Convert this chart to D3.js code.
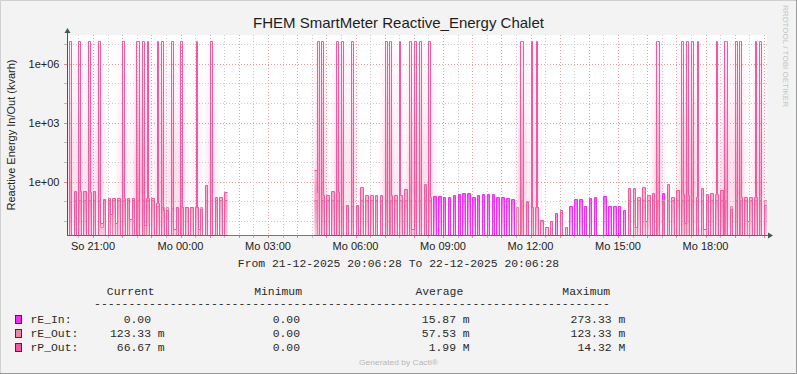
<!DOCTYPE html>
<html>
<head>
<meta charset="utf-8">
<script src="https://cdn.jsdelivr.net/npm/d3@7"></script>
<style>
html, body { margin: 0; padding: 0; background: #f3f3f3; }
svg { display: block; }
</style>
</head>
<body>
<script>
"use strict";
(function() {
const svgSize = { width: 797, height: 374 };
const plot = { left: 67, right: 767, top: 35, bottom: 235 };

const title = "FHEM SmartMeter Reactive_Energy Chalet";
const yTitle = "Reactive Energy In/Out (kvarh)";
const dayNames = ["So", "Mo", "Di", "Mi", "Do", "Fr", "Sa"];
const rangeStart = new Date(2025, 11, 21, 20, 6, 28);
const rangeEnd = new Date(2025, 11, 22, 20, 6, 28);
const rangeText = "From 21-12-2025 20:06:28 To 22-12-2025 20:06:28";

// 5 minute slots, first slot starts 20:05, one row per hour
const firstSlot = new Date(2025, 11, 21, 20, 5, 0);
const slotMinutes = 5;
const N = null;

const rEIn = [
  0,0,0,0,0,0,0,0,0,0,0,0,
  0,0,0,0,0,0,0,0,0,0,0,0,
  0,0,0,0,0,0,0,0,0,0,0,0,
  0,0,0,0,0,0,0,0,0,0,0,0,
  0,0,0,0,0,0,0,0,0,0,0,0,
  0,0,0,0,0,0,N,N,N,N,N,N,
  N,N,N,N,N,N,N,N,N,N,N,N,
  N,N,N,N,N,N,N,N,N,N,N,N,
  N,N,N,N,N,N,0,0,0,0,0,0,
  0,0,0,0,0,0,0,0,0,0,0,0,
  0,0,0,0,0,0,0,0,0,0,0,0,
  0,0,0,0,0,0,0,0,0,0,0,0,
  0,0,0,0,0,0,0,0.19,0,0.19,0,0.16,
  0,0.16,0,0.2,0,0.25,0,0.26,0,0.27,0,0.16,
  0,0.22,0,0.25,0,0.25,0,0.25,0,0.16,0,0.16,
  0,0.15,0,0.14,0,0,0,0,0,0,0,0,
  0,0,0,0,0,0,0,0,0,0.025,0,0,
  0,0,0,0.06,0,0.14,0,0.14,0,0.056,0,0.15,
  0,0.16,0,0,0,0.19,0,0.056,0,0.056,0,0.056,
  0,0.035,0,0,0,0,0,0,0,0,0,0,
  0,0,0,0,0,0.27,0,0,0,0,0,0,
  0,0,0,0,0,0,0,0,0,0,0,0,
  0,0,0,0,0,0,0,0,0,0,0,0,
  0,0,0,0,0,0,0,0,0,0,0,0,0
];

const rEOut = [
  0,0.096,0,0.12,0,0.12,0,0.12,0,0.12,0,0.12,
  0,0.12,0.005,0.12,0,0.12,0,0.12,0,0.12,0,0.12,
  0,0.12,0,0.12,0,0.12,0,0.12,0,0.12,0,0.12,
  0,0.06,0,0.05,0,0.05,0,0.045,0,0.05,0,0.05,
  0,0.05,0,0.05,0,0.05,0,0.05,0,0.12,0,0.12,
  0,0.12,0,0.12,0,0.12,N,N,N,N,N,N,
  N,N,N,N,N,N,N,N,N,N,N,N,
  N,N,N,N,N,N,N,N,N,N,N,N,
  N,N,N,N,N,N,0.12,0,0,0.12,0,0.12,
  0,0.12,0,0.12,0,0.06,0,0.06,0,0.06,0,0.06,
  0,0.12,0,0.12,0,0.12,0,0.12,0,0.12,0,0.12,
  0,0.12,0,0.12,0,0.12,0,0.12,0,0.12,0,0.12,
  0,0.12,0,0.12,0,0.12,0,0,0,0,0,0,
  0,0,0,0,0,0,0,0,0,0,0,0,
  0,0,0,0,0,0,0,0,0,0,0,0,
  0,0,0,0,0,0.05,0,0.12,0,0.11,0,0.05,
  0,0.05,0,0.01,0,0.005,0,0.01,0,0,0,0.03,
  0,0.005,0,0,0,0,0,0,0,0,0,0,
  0,0,0,0,0,0,0,0,0,0,0,0,
  0,0,0,0.12,0,0.12,0,0.12,0,0.12,0,0.12,
  0,0.12,0,0.12,0,0.12,0,0.12,0,0.12,0,0.12,
  0,0.12,0,0.12,0,0.12,0,0.12,0,0.12,0,0.12,
  0,0.12,0,0.12,0,0.12,0,0.12,0,0.06,0,0.12,
  0,0.12,0,0.12,0,0.12,0,0.12,0,0.12,0,0.1233,0.1233
];

const rPOut = [
  0,0.32,0,0.32,0,0.32,0,0.32,0,0.3,0,0.35,
  0,0.16,0.008,0.14,0,0.15,0.023,0.15,0.008,0.15,0,0.15,
  0,0.15,0.013,0.15,0,0.15,0,0.15,0.006,0.15,0,0.15,
  0,0.086,0,0.035,0,0.035,0,0.03,0.004,0.05,0,0.05,
  0,0.05,0,0.055,0,0.055,0.004,0.04,0,0.66,0,0.16,
  0,0.16,0,0.16,0,0.31,N,N,N,N,N,N,
  N,N,N,N,N,N,N,N,N,N,N,N,
  N,N,N,N,N,N,N,N,N,N,N,N,
  N,N,N,N,N,N,3.9,0.3,0,0.21,0,0.2,
  0,0.35,0,0.3,0,0.066,0,0.066,0,0.066,0,0.066,
  0,0.57,0,0.2,0,0.2,0,0.2,0,0.21,0,0.22,
  0,0.22,0,0.22,0,0.2,0,0.45,0,0.21,0.004,0.15,
  0,0.16,0,0.8,0,0.16,0,0,0,0,0,0,
  0,0,0,0,0,0,0,0,0,0,0,0,
  0,0,0,0,0,0,0,0,0,0,0,0,
  0,0,0,0,0,0,0,0.16,0,0.09,0,0.05,
  0,0.05,0,0.011,0,0.005,0,0.01,0,0,0,0.035,
  0,0.005,0,0,0,0,0,0,0,0,0,0,
  0,0,0,0,0,0,0,0,0,0,0,0,
  0,0,0,0.46,0,0.5,0.005,0.16,0,0.55,0.01,0.2,
  0,0.28,0,0.16,0,0.1,0,0.75,0,0.16,0,0.4,
  0,0.23,0.008,0.21,0,0.21,0,0.16,0,0.5,0.004,0.25,
  0,0.28,0,0.25,0,0.4,0,0.25,0,0.04,0,0.16,
  0,0.16,0,0.16,0.01,0.16,0,0.16,0,0.16,0,0.0667,0.0667
];

// rP_Out peaks: start (minutes after 20:05) and width (minutes)
const rpPeak = 14.32e6;
const rpSpikeStart = [5, 25, 45.5, 64.5, 115.5, 144, 155, 165.5, 186, 195, 214.5, 234.5, 266, 295,
  515.5, 525, 555.5, 564.5, 585, 655, 664, 684.5, 704, 714.5, 725, 745,
  934, 955, 965.5, 1213.5, 1265.5, 1275.5, 1285, 1296.5, 1336, 1354, 1375, 1384, 1416, 1424];
const rpSpikeWidth = [5, 3, 3, 5, 3, 5, 5, 3, 3, 3, 5, 3, 3, 5,
  5, 3, 3, 5, 5, 5, 3, 3, 5, 5, 5, 3,
  5, 3, 3, 5, 3, 3, 5, 3, 3, 5, 5, 3, 3, 5];

const seriesNames = ["rE_In:", "rE_Out:", "rP_Out:"];
const seriesColors = ["#f52af5", "#e48aa8", "#f2599f"];
const statHeaders = ["Current", "Minimum", "Average", "Maximum"];
const statValues = [
  [["0.00", ""], ["0.00", ""], ["15.87", "m"], ["273.33", "m"]],
  [["123.33", "m"], ["0.00", ""], ["57.53", "m"], ["123.33", "m"]],
  [["66.67", "m"], ["0.00", ""], ["1.99", "M"], ["14.32", "M"]]
];

window.addEventListener("load", init);

function init() {
    const svg = d3.select("body").append("svg")
        .attr("width", svgSize.width)
        .attr("height", svgSize.height);

    const defs = svg.append("defs");
    defs.append("clipPath").attr("id", "plotClip")
        .append("rect")
            .attr("x", plot.left).attr("y", plot.top)
            .attr("width", plot.right - plot.left).attr("height", plot.bottom - plot.top + 1);
    const haze = defs.append("filter").attr("id", "haze")
        .attr("x", "-5%").attr("width", "110%");
    haze.append("feGaussianBlur").attr("stdDeviation", "3 0");
    haze.append("feComponentTransfer")
        .append("feFuncA").attr("type", "linear").attr("slope", 3.2);

    function addGradient(id, color, stops) {
        const g = defs.append("linearGradient").attr("id", id)
            .attr("gradientUnits", "userSpaceOnUse")
            .attr("x1", 0).attr("x2", 0).attr("y1", plot.top).attr("y2", plot.bottom);
        stops.forEach(s => g.append("stop").attr("offset", s[0])
            .attr("stop-color", color).attr("stop-opacity", s[1]));
    }
    addGradient("gIn", seriesColors[0], [[0, 0.1], [0.76, 0.85], [1, 0.3]]);
    addGradient("gEOut", seriesColors[1], [[0, 0.05], [0.8, 0.5], [1, 0.15]]);
    addGradient("gPOut", seriesColors[2], [[0, 0.04], [0.3, 0.12], [0.7, 0.35], [0.78, 0.5], [1, 0.18]]);
    addGradient("gHaze", seriesColors[2], [[0, 0.02], [0.25, 0.1], [0.6, 0.25], [0.78, 0.3], [1, 0.15]]);

    // background and frame
    svg.append("rect").attr("width", svgSize.width).attr("height", svgSize.height).attr("fill", "#f3f3f3");
    svg.append("path").attr("d", `M0.5,${svgSize.height} V0.5 H${svgSize.width}`)
        .attr("fill", "none").attr("stroke", "#cfcfcf");
    svg.append("path").attr("d", `M0,${svgSize.height - 0.5} H${svgSize.width - 0.5} V0`)
        .attr("fill", "none").attr("stroke", "#9a9a9a");
    svg.append("rect")
        .attr("x", plot.left).attr("y", plot.top)
        .attr("width", plot.right - plot.left).attr("height", plot.bottom - plot.top)
        .attr("fill", "#ffffff");

    const xScale = d3.scaleTime().domain([rangeStart, rangeEnd]).range([plot.left, plot.right]);
    const yScale = d3.scaleLog().domain([Math.pow(10, -2.706), Math.pow(10, 7.447)])
        .range([plot.bottom, plot.top]).clamp(true);

    const px = t => Math.round(xScale(t)) + 0.5;
    const py = v => v > 0 ? Math.round(yScale(v)) + 0.5 : plot.bottom + 0.5;

    // grid
    const grid = svg.append("g");
    const decades = d3.range(-2, 8).map(e => Math.pow(10, e));
    const majorDecades = [1, 1e3, 1e6];
    grid.selectAll(".hgrid").data(decades).enter().append("line")
        .attr("x1", plot.left).attr("x2", plot.right)
        .attr("y1", d => Math.round(yScale(d)) + 0.5).attr("y2", d => Math.round(yScale(d)) + 0.5)
        .attr("stroke", d => majorDecades.includes(d) ? "#eea0a0" : "#cccccc")
        .attr("stroke-dasharray", "1,2");
    const halfHours = d3.timeMinute.every(30).range(rangeStart, rangeEnd);
    grid.selectAll(".vgrid").data(halfHours).enter().append("line")
        .attr("x1", d => px(d)).attr("x2", d => px(d))
        .attr("y1", plot.top).attr("y2", plot.bottom)
        .attr("stroke", d => d.getMinutes() === 0 ? "#eea0a0" : "#cccccc")
        .attr("stroke-dasharray", "1,2");
    grid.selectAll(".xtick").data(halfHours).enter().append("line")
        .attr("x1", d => px(d)).attr("x2", d => px(d))
        .attr("y1", plot.bottom + 1).attr("y2", plot.bottom + 3)
        .attr("stroke", d => d.getMinutes() === 0 ? "#e08a8a" : "#bbbbbb");
    grid.selectAll(".ytick").data(decades).enter().append("line")
        .attr("x1", plot.left - 3).attr("x2", plot.left)
        .attr("y1", d => Math.round(yScale(d)) + 0.5).attr("y2", d => Math.round(yScale(d)) + 0.5)
        .attr("stroke", d => majorDecades.includes(d) ? "#e08a8a" : "#bbbbbb");

    // series
    const slotMs = slotMinutes * 60000;
    function slotSegments(vals) {
        return vals.map((v, j) => ({ t0: +firstSlot + j * slotMs, t1: +firstSlot + (j + 1) * slotMs, v: v }));
    }
    function spikeIntervals(starts, widths) {
        return starts.map((s, i) => [+firstSlot + s * 60000, +firstSlot + (s + widths[i]) * 60000]);
    }
    function withSpikes(segs, spikes, peak, baseOff) {
        const cuts = new Set();
        segs.forEach(s => { cuts.add(s.t0); cuts.add(s.t1); });
        spikes.forEach(s => { cuts.add(s[0]); cuts.add(s[1]); });
        const times = Array.from(cuts).sort((a, b) => a - b);
        const out = [];
        for (let k = 0; k < times.length - 1; k++) {
            const a = times[k];
            const seg = segs[Math.floor((a - firstSlot) / slotMs)];
            let v = baseOff ? 0 : (seg ? seg.v : null);
            if (spikes.some(s => a >= s[0] && a < s[1])) v = peak;
            out.push({ t0: a, t1: times[k + 1], v: v });
        }
        return out;
    }
    function toPoints(segs) {
        const pts = [];
        segs.forEach(s => { pts.push({ t: s.t0, v: s.v }); pts.push({ t: s.t1, v: s.v }); });
        return pts;
    }

    const rpSpikes = spikeIntervals(rpSpikeStart, rpSpikeWidth);
    const series = [
        { pts: toPoints(slotSegments(rEIn)), color: seriesColors[0], fill: "url(#gIn)" },
        { pts: toPoints(slotSegments(rEOut)), color: seriesColors[1], fill: "url(#gEOut)" },
        { pts: toPoints(withSpikes(slotSegments(rPOut), rpSpikes, rpPeak, false)), color: seriesColors[2], fill: "url(#gPOut)" }
    ];
    const peakOnly = toPoints(withSpikes(slotSegments(rPOut), rpSpikes, rpPeak, true));

    const area = d3.area()
        .defined(d => d.v !== null)
        .x(d => px(d.t))
        .y0(plot.bottom)
        .y1(d => py(d.v));
    const line = d3.line()
        .defined(d => d.v !== null)
        .x(d => px(d.t))
        .y(d => py(d.v));

    const marks = svg.append("g").attr("clip-path", "url(#plotClip)");
    marks.append("g").attr("filter", "url(#haze)")
        .append("path")
            .attr("d", area(peakOnly))
            .attr("fill", "url(#gHaze)");
    series.forEach(s => {
        marks.append("path").attr("d", area(s.pts)).attr("fill", s.fill);
        marks.append("path").attr("d", line(s.pts))
            .attr("fill", "none").attr("stroke", s.color).attr("stroke-width", 1);
    });

    // axes
    const axisColor = "#3d5c55";
    svg.append("line")
        .attr("x1", plot.left + 0.5).attr("x2", plot.left + 0.5)
        .attr("y1", plot.bottom + 1).attr("y2", plot.top - 5)
        .attr("stroke", axisColor);
    svg.append("path")
        .attr("d", `M${plot.left - 2.5},${plot.top - 2} L${plot.left + 3.5},${plot.top - 2} L${plot.left + 0.5},${plot.top - 7} Z`)
        .attr("fill", axisColor);
    svg.append("line")
        .attr("x1", plot.left).attr("x2", plot.right + 2)
        .attr("y1", plot.bottom + 0.5).attr("y2", plot.bottom + 0.5)
        .attr("stroke", "#6a5468").attr("opacity", 0.8);
    svg.append("path")
        .attr("d", `M${plot.right + 1},${plot.bottom - 2.5} L${plot.right + 1},${plot.bottom + 3.5} L${plot.right + 6},${plot.bottom + 0.5} Z`)
        .attr("fill", axisColor);

    // labels
    const sans = "'Liberation Sans', Arial, sans-serif";
    const mono = "'Liberation Mono', 'Courier New', monospace";

    svg.append("text")
        .attr("x", 398.5).attr("y", 27.5)
        .attr("text-anchor", "middle")
        .attr("font-family", sans).attr("font-size", 15)
        .attr("fill", "#1e1e1e")
        .text(title);

    svg.append("text")
        .attr("transform", "translate(15,135) rotate(-90)")
        .attr("text-anchor", "middle")
        .attr("font-family", sans).attr("font-size", 11)
        .attr("fill", "#222")
        .text(yTitle);

    svg.selectAll(".ylabel").data(majorDecades).enter().append("text")
        .attr("x", 59.5).attr("y", d => yScale(d) + 4)
        .attr("text-anchor", "end")
        .attr("font-family", sans).attr("font-size", 11)
        .attr("fill", "#222")
        .text(d => d.toExponential(0).replace(/e([+-])(\d)$/, "e$10$2"));

    const labelTicks = d3.timeHour.every(3).range(rangeStart, rangeEnd);
    svg.selectAll(".xlabel").data(labelTicks).enter().append("text")
        .attr("x", d => xScale(d)).attr("y", 249.5)
        .attr("text-anchor", "middle")
        .attr("font-family", sans).attr("font-size", 11)
        .attr("fill", "#222")
        .text(d => dayNames[d.getDay()] + " " + d3.timeFormat("%H:%M")(d));

    // watermark
    svg.append("text")
        .attr("transform", "translate(783,5) rotate(90)")
        .attr("font-family", sans).attr("font-size", 8)
        .attr("textLength", 102).attr("lengthAdjust", "spacingAndGlyphs")
        .attr("fill", "#c4c4c4")
        .text("RRDTOOL / TOBI OETIKER");

    // legend
    const legend = svg.append("g")
        .attr("font-family", mono).attr("font-size", 11.4)
        .attr("fill", "#2a2a2a")
        .style("white-space", "pre");

    legend.append("text").attr("x", 398.5).attr("y", 267)
        .attr("text-anchor", "middle").text(rangeText);

    const headerX = [106.8, 254.2, 415.4, 562.3];
    const colEnd = [151, 300, 456, 611.6];
    legend.selectAll(".hdr").data(statHeaders).enter().append("text")
        .attr("x", (d, i) => headerX[i]).attr("y", 295).text(d => d);
    legend.append("text").attr("x", 94).attr("y", 306.5)
        .attr("textLength", 516).attr("lengthAdjust", "spacingAndGlyphs")
        .text("-".repeat(75));

    const rowY = [323, 337, 351];
    seriesNames.forEach((name, r) => {
        legend.append("rect")
            .attr("x", 15.5).attr("y", rowY[r] - 7.5)
            .attr("width", 6).attr("height", 8)
            .attr("fill", seriesColors[r]).attr("stroke", "#333");
        legend.append("text").attr("x", 30.5).attr("y", rowY[r]).text(name);
        statValues[r].forEach((sv, c) => {
            legend.append("text").attr("x", colEnd[c]).attr("y", rowY[r])
                .attr("text-anchor", "end").text(sv[0]);
            if (sv[1]) {
                legend.append("text").attr("x", colEnd[c] + 6.85).attr("y", rowY[r]).text(sv[1]);
            }
        });
    });

    svg.append("text")
        .attr("x", 398.5).attr("y", 365)
        .attr("text-anchor", "middle")
        .attr("font-family", sans).attr("font-size", 8)
        .attr("textLength", 79).attr("lengthAdjust", "spacingAndGlyphs")
        .attr("fill", "#b8b8b8")
        .text("Generated by Cacti\u00ae");
}
})();
</script>
</body>
</html>
